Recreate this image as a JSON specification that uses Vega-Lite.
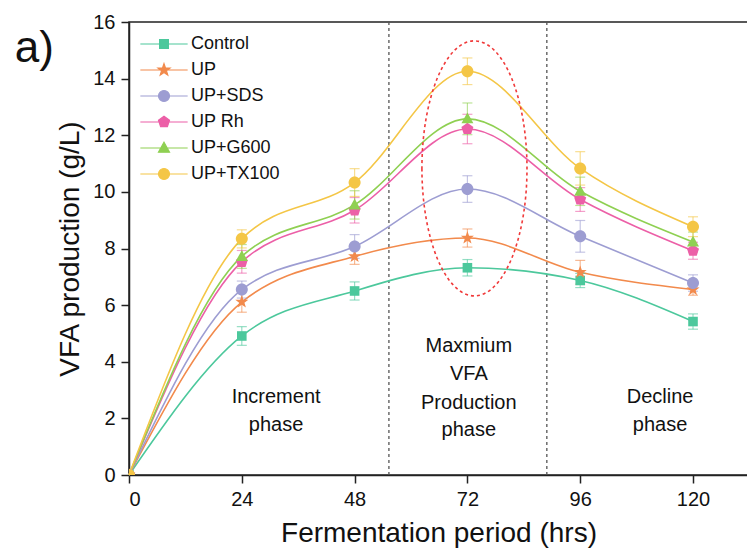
{
  "$schema": "https://vega.github.io/schema/vega-lite/v6.json",
  "width": 619,
  "height": 453,
  "autosize": {"type": "none"},
  "padding": {"left": 129, "top": 22, "right": 0, "bottom": 82},
  "background": "white",
  "config": {
    "font": "Liberation Sans",
    "view": {"stroke": "#222", "strokeWidth": 1.5},
    "axis": {
      "grid": false,
      "domainColor": "#222",
      "domainWidth": 1.5,
      "tickColor": "#222",
      "tickWidth": 1.5,
      "tickSize": 8,
      "labelFontSize": 20,
      "labelColor": "#111",
      "labelFont": "Liberation Sans",
      "labelPadding": 6,
      "titleFont": "Liberation Sans",
      "titleFontSize": 28,
      "titleFontWeight": "normal",
      "titleColor": "#111"
    }
  },
  "datasets": {
    "d": [
      {"series": "Control", "hours": 0, "vfa": 0},
      {"series": "Control", "hours": 24, "vfa": 4.91, "lo": 4.58, "hi": 5.24},
      {"series": "Control", "hours": 48, "vfa": 6.50, "lo": 6.18, "hi": 6.82},
      {"series": "Control", "hours": 72, "vfa": 7.32, "lo": 7.03, "hi": 7.61},
      {"series": "Control", "hours": 96, "vfa": 6.87, "lo": 6.62, "hi": 7.12},
      {"series": "Control", "hours": 120, "vfa": 5.42, "lo": 5.15, "hi": 5.69},
      {"series": "UP", "hours": 0, "vfa": 0},
      {"series": "UP", "hours": 24, "vfa": 6.11, "lo": 5.75, "hi": 6.47},
      {"series": "UP", "hours": 48, "vfa": 7.72, "lo": 7.44, "hi": 8.00},
      {"series": "UP", "hours": 72, "vfa": 8.37, "lo": 8.05, "hi": 8.69},
      {"series": "UP", "hours": 96, "vfa": 7.16, "lo": 6.74, "hi": 7.58},
      {"series": "UP", "hours": 120, "vfa": 6.55, "lo": 6.35, "hi": 6.75},
      {"series": "UP+SDS", "hours": 0, "vfa": 0},
      {"series": "UP+SDS", "hours": 24, "vfa": 6.55, "lo": 6.25, "hi": 6.85},
      {"series": "UP+SDS", "hours": 48, "vfa": 8.07, "lo": 7.65, "hi": 8.49},
      {"series": "UP+SDS", "hours": 72, "vfa": 10.10, "lo": 9.63, "hi": 10.57},
      {"series": "UP+SDS", "hours": 96, "vfa": 8.43, "lo": 7.87, "hi": 8.99},
      {"series": "UP+SDS", "hours": 120, "vfa": 6.78, "lo": 6.49, "hi": 7.07},
      {"series": "UP Rh", "hours": 0, "vfa": 0},
      {"series": "UP Rh", "hours": 24, "vfa": 7.53, "lo": 7.13, "hi": 7.93},
      {"series": "UP Rh", "hours": 48, "vfa": 9.35, "lo": 8.90, "hi": 9.80},
      {"series": "UP Rh", "hours": 72, "vfa": 12.22, "lo": 11.70, "hi": 12.74},
      {"series": "UP Rh", "hours": 96, "vfa": 9.73, "lo": 9.31, "hi": 10.15},
      {"series": "UP Rh", "hours": 120, "vfa": 7.92, "lo": 7.62, "hi": 8.22},
      {"series": "UP+G600", "hours": 0, "vfa": 0},
      {"series": "UP+G600", "hours": 24, "vfa": 7.72, "lo": 7.30, "hi": 8.14},
      {"series": "UP+G600", "hours": 48, "vfa": 9.54, "lo": 9.04, "hi": 10.04},
      {"series": "UP+G600", "hours": 72, "vfa": 12.58, "lo": 12.02, "hi": 13.14},
      {"series": "UP+G600", "hours": 96, "vfa": 10.02, "lo": 9.52, "hi": 10.52},
      {"series": "UP+G600", "hours": 120, "vfa": 8.23, "lo": 7.88, "hi": 8.58},
      {"series": "UP+TX100", "hours": 0, "vfa": 0},
      {"series": "UP+TX100", "hours": 24, "vfa": 8.34, "lo": 8.02, "hi": 8.66},
      {"series": "UP+TX100", "hours": 48, "vfa": 10.33, "lo": 9.84, "hi": 10.82},
      {"series": "UP+TX100", "hours": 72, "vfa": 14.26, "lo": 13.79, "hi": 14.73},
      {"series": "UP+TX100", "hours": 96, "vfa": 10.83, "lo": 10.24, "hi": 11.42},
      {"series": "UP+TX100", "hours": 120, "vfa": 8.77, "lo": 8.42, "hi": 9.12}
    ],
    "vlines": [{"hours": 55.3}, {"hours": 88.9}],
    "notes": [
      {"label": "Increment", "hours": 31.3, "vfa": 2.76},
      {"label": "phase", "hours": 31.3, "vfa": 1.77},
      {"label": "Maxmium", "hours": 72.3, "vfa": 4.54},
      {"label": "VFA", "hours": 72.3, "vfa": 3.56},
      {"label": "Production", "hours": 72.3, "vfa": 2.54},
      {"label": "phase", "hours": 72.3, "vfa": 1.59},
      {"label": "Decline", "hours": 113, "vfa": 2.76},
      {"label": "phase", "hours": 113, "vfa": 1.77}
    ],
    "panel": [{"label": "a)", "hours": -24.3, "vfa": 14.6}],
    "ellipse": [{"hours": 73.5, "vfa": 10.83}]
  },
  "encoding": {
    "x": {
      "field": "hours",
      "type": "quantitative",
      "scale": {"domain": [0, 131.7], "nice": false, "zero": false},
      "axis": {"values": [0, 24, 48, 72, 96, 120], "title": "Fermentation period (hrs)", "titlePadding": 10}
    }
  },
  "resolve": {"scale": {"shape": "independent"}},
  "layer": [
    {
      "data": {"name": "vlines"},
      "mark": {"type": "rule", "strokeDash": [3, 3], "color": "#555", "strokeWidth": 1.3},
      "encoding": {}
    },
    {
      "data": {"name": "d"},
      "mark": {"type": "line", "interpolate": "monotone", "strokeWidth": 1.6},
      "encoding": {
        "y": {
          "field": "vfa",
          "type": "quantitative",
          "scale": {"domain": [0, 16], "nice": false},
          "axis": {"values": [0, 2, 4, 6, 8, 10, 12, 14, 16], "title": "VFA production (g/L)", "titlePadding": 8}
        },
        "color": {
          "field": "series",
          "type": "nominal",
          "scale": {
            "domain": ["Control", "UP", "UP+SDS", "UP Rh", "UP+G600", "UP+TX100"],
            "range": ["#4cc89c", "#f28a4c", "#9d9dd2", "#ec5fa7", "#8fd052", "#f4c646"]
          },
          "legend": null
        }
      }
    },
    {
      "data": {"name": "d"},
      "transform": [{"filter": "datum.hours > 0"}],
      "mark": {"type": "rule", "strokeWidth": 1.2, "opacity": 0.6},
      "encoding": {
        "y": {"field": "lo", "type": "quantitative", "title": "VFA production (g/L)"},
        "y2": {"field": "hi"},
        "color": {"field": "series", "type": "nominal", "legend": null}
      }
    },
    {
      "data": {"name": "d"},
      "transform": [{"filter": "datum.hours > 0"}],
      "mark": {"type": "tick", "orient": "horizontal", "size": 10, "thickness": 1.2, "opacity": 0.6},
      "encoding": {
        "y": {"field": "lo", "type": "quantitative", "title": "VFA production (g/L)"},
        "color": {"field": "series", "type": "nominal", "legend": null}
      }
    },
    {
      "data": {"name": "d"},
      "transform": [{"filter": "datum.hours > 0"}],
      "mark": {"type": "tick", "orient": "horizontal", "size": 10, "thickness": 1.2, "opacity": 0.6},
      "encoding": {
        "y": {"field": "hi", "type": "quantitative", "title": "VFA production (g/L)"},
        "color": {"field": "series", "type": "nominal", "legend": null}
      }
    },
    {
      "data": {"name": "d"},
      "mark": {"type": "point", "filled": true, "opacity": 1, "size": 144, "clip": true},
      "encoding": {
        "y": {"field": "vfa", "type": "quantitative", "title": "VFA production (g/L)"},
        "color": {"field": "series", "type": "nominal", "legend": null},
        "shape": {
          "field": "series",
          "type": "nominal",
          "scale": {
            "domain": ["Control", "UP", "UP+SDS", "UP Rh", "UP+G600", "UP+TX100"],
            "range": [
              "M-0.8,-0.8L0.8,-0.8L0.8,0.8L-0.8,0.8Z",
              "M0,-1.15L0.27,-0.37L1.09,-0.36L0.44,0.14L0.68,0.93L0,0.46L-0.68,0.93L-0.44,0.14L-1.09,-0.36L-0.27,-0.37Z",
              "M-1,0A1,1 0 1,0 1,0A1,1 0 1,0 -1,0Z",
              "M0,-1.05L1,-0.32L0.62,0.85L-0.62,0.85L-1,-0.32Z",
              "M0,-1.05L1,0.75L-1,0.75Z",
              "M-1,0A1,1 0 1,0 1,0A1,1 0 1,0 -1,0Z"
            ]
          },
          "legend": null
        }
      }
    },
    {
      "data": {"name": "d"},
      "transform": [{"filter": "datum.hours > 1000"}],
      "mark": {"type": "point", "filled": true, "opacity": 1},
      "encoding": {
        "y": {"field": "vfa", "type": "quantitative", "title": "VFA production (g/L)"},
        "shape": {
          "field": "series",
          "type": "nominal",
          "scale": {
            "domain": ["Control", "UP", "UP+SDS", "UP Rh", "UP+G600", "UP+TX100"],
            "range": [
              "M-4.3,0L4.3,0M-0.8,-0.8L0.8,-0.8L0.8,0.8L-0.8,0.8Z",
              "M-4.3,0L4.3,0M0,-1.15L0.27,-0.37L1.09,-0.36L0.44,0.14L0.68,0.93L0,0.46L-0.68,0.93L-0.44,0.14L-1.09,-0.36L-0.27,-0.37Z",
              "M-4.3,0L4.3,0M-1,0A1,1 0 1,0 1,0A1,1 0 1,0 -1,0Z",
              "M-4.3,0L4.3,0M0,-1.05L1,-0.32L0.62,0.85L-0.62,0.85L-1,-0.32Z",
              "M-4.3,0L4.3,0M0,-1.05L1,0.75L-1,0.75Z",
              "M-4.3,0L4.3,0M-1,0A1,1 0 1,0 1,0A1,1 0 1,0 -1,0Z"
            ]
          },
          "legend": {
            "orient": "none", "legendX": 26, "legendY": 13, "title": null,
            "labelFontSize": 18, "labelFont": "Liberation Sans", "labelColor": "#111",
            "symbolSize": 121, "symbolStrokeWidth": 1.2, "labelOffset": 18, "rowPadding": 8, "padding": 0,
            "encoding": {
              "symbols": {
                "fill": {"value": {"expr": "scale('color', datum.value)"}},
                "stroke": {"value": {"expr": "scale('color', datum.value)"}},
                "strokeWidth": {"value": 1.2},
                "opacity": {"value": 1}
              }
            }
          }
        }
      }
    },
    {
      "data": {"name": "ellipse"},
      "mark": {"type": "point", "filled": false, "shape": "M-0.412,0A0.412,1 0 1,0 0.412,0A0.412,1 0 1,0 -0.412,0Z", "size": 65025, "stroke": "#f03a3a", "strokeDash": [3, 3], "strokeWidth": 1.6, "opacity": 1},
      "encoding": {
        "y": {"field": "vfa", "type": "quantitative", "title": "VFA production (g/L)"}
      }
    },
    {
      "data": {"name": "notes"},
      "mark": {"type": "text", "fontSize": 20, "font": "Liberation Sans", "color": "#111", "align": "center", "baseline": "middle"},
      "encoding": {
        "y": {"field": "vfa", "type": "quantitative", "title": "VFA production (g/L)"},
        "text": {"field": "label"}
      }
    },
    {
      "data": {"name": "panel"},
      "mark": {"type": "text", "fontSize": 44, "font": "Liberation Sans", "color": "#111", "align": "left", "baseline": "alphabetic"},
      "encoding": {
        "y": {"field": "vfa", "type": "quantitative", "title": "VFA production (g/L)"},
        "text": {"field": "label"}
      }
    }
  ]
}
